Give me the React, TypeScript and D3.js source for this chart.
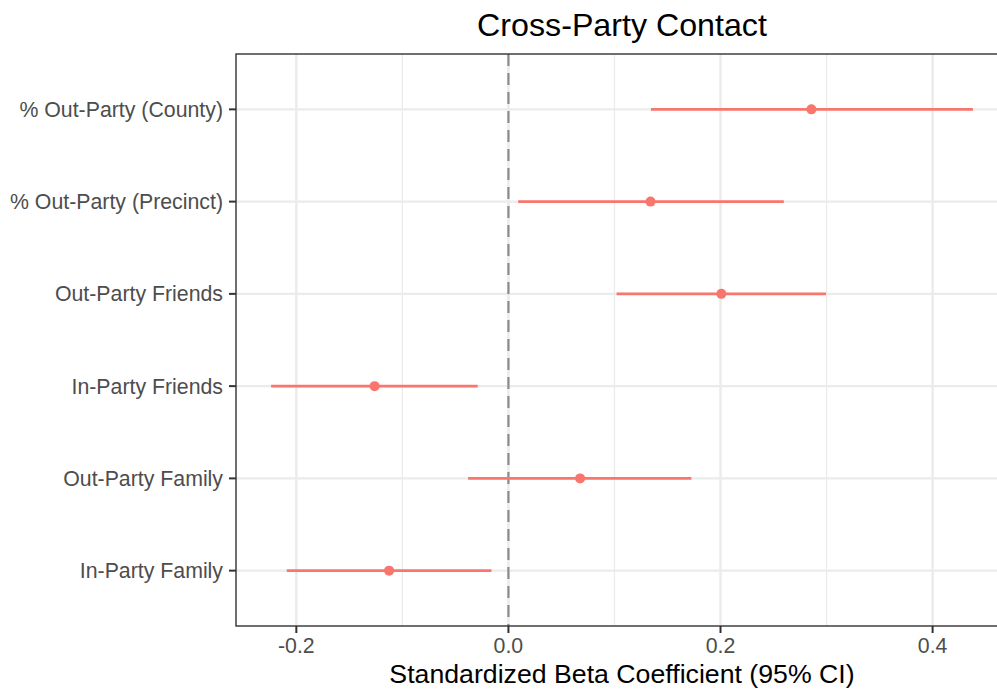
import React from "react";
import * as d3 from "d3";

const categories = [
  "% Out-Party (County)",
  "% Out-Party (Precinct)",
  "Out-Party Friends",
  "In-Party Friends",
  "Out-Party Family",
  "In-Party Family",
];
const estimates = [0.2857, 0.134, 0.2008, -0.1262, 0.0676, -0.1125];
const lowers = [0.1344, 0.0092, 0.102, -0.2238, -0.038, -0.209];
const uppers = [0.438, 0.2597, 0.2995, -0.029, 0.1725, -0.016];
const xTicks = [-0.2, 0.0, 0.2, 0.4];
const xMinor = [-0.1, 0.1, 0.3];

const W = 997;
const H = 690;
const FONT = "'Liberation Sans', Arial, sans-serif";

export default function App() {
  const left = 236;
  const top = 54;
  const bottom = 626;
  const right = 1008;
  const lo = d3.min(lowers)!;
  const hi = d3.max(uppers)!;
  const span = hi - lo;
  const domain: [number, number] = [lo - 0.05 * span, hi + 0.05 * span];
  const x = d3.scaleLinear().domain(domain).range([left, right]);
  const y = d3
    .scalePoint<string>()
    .domain(categories)
    .range([top, bottom])
    .padding(0.6);

  const red = "#F8766D";
  return (
    <div style={{ position: "absolute", left: 0, top: 0 }}>
      <svg width={W} height={H} style={{ display: "block" }}>
        <rect x={0} y={0} width={W} height={H} fill="white" />
        <rect x={left} y={top} width={right - left} height={bottom - top} fill="white" />
        {xMinor.map((t) => (
          <line key={"m" + t} x1={x(t)} x2={x(t)} y1={top} y2={bottom} stroke="#EBEBEB" strokeWidth={1.3} />
        ))}
        {xTicks.map((t) => (
          <line key={"g" + t} x1={x(t)} x2={x(t)} y1={top} y2={bottom} stroke="#EBEBEB" strokeWidth={2.4} />
        ))}
        {categories.map((c) => (
          <line key={"gy" + c} x1={left} x2={right} y1={y(c)!} y2={y(c)!} stroke="#EBEBEB" strokeWidth={2.4} />
        ))}
        <line
          x1={x(0)}
          x2={x(0)}
          y1={top}
          y2={bottom}
          stroke="#8C8C8C"
          strokeWidth={2.2}
          strokeDasharray="12,7"
        />
        {categories.map((c, i) => (
          <g key={"e" + c}>
            <line x1={x(lowers[i])} x2={x(uppers[i])} y1={y(c)!} y2={y(c)!} stroke={red} strokeWidth={2.6} />
            <circle cx={x(estimates[i])} cy={y(c)!} r={5} fill={red} />
          </g>
        ))}
        <rect
          x={left}
          y={top}
          width={right - left}
          height={bottom - top}
          fill="none"
          stroke="#333333"
          strokeWidth={1.4}
        />
        {categories.map((c) => (
          <g key={"yt" + c}>
            <line x1={left - 7} x2={left} y1={y(c)!} y2={y(c)!} stroke="#333333" strokeWidth={2} />
            <text
              x={left - 13}
              y={y(c)! + 7.5}
              textAnchor="end"
              fontFamily={FONT}
              fontSize={21.3}
              fill="#4D4D4D"
            >
              {c}
            </text>
          </g>
        ))}
        {xTicks.map((t) => (
          <g key={"xt" + t}>
            <line x1={x(t)} x2={x(t)} y1={bottom} y2={bottom + 7} stroke="#333333" strokeWidth={2} />
            <text
              x={x(t)}
              y={653}
              textAnchor="middle"
              fontFamily={FONT}
              fontSize={21.3}
              fill="#4D4D4D"
            >
              {d3.format(".1f")(t).replace("−", "-")}
            </text>
          </g>
        ))}
        <text
          x={(left + right) / 2}
          y={683}
          textAnchor="middle"
          fontFamily={FONT}
          fontSize={26.7}
          fill="#000"
        >
          Standardized Beta Coefficient (95% CI)
        </text>
        <text
          x={(left + right) / 2}
          y={35.5}
          textAnchor="middle"
          fontFamily={FONT}
          fontSize={32.2}
          fill="#000"
        >
          Cross-Party Contact
        </text>
      </svg>
    </div>
  );
}
